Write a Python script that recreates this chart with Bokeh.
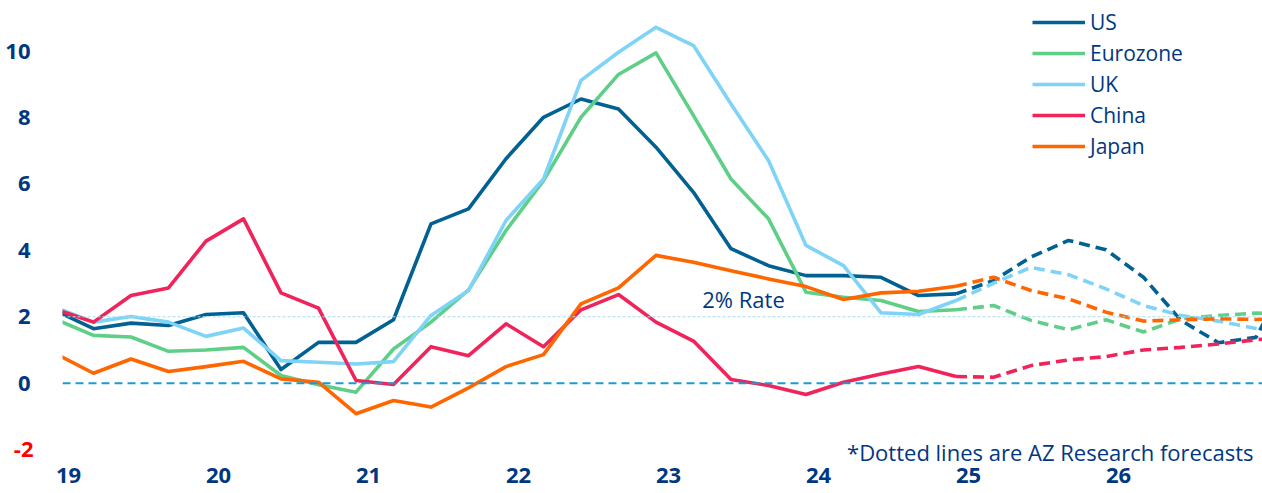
from bokeh.plotting import figure
from bokeh.models import FixedTicker, Span, Label, Legend, LegendItem, LinearAxis
from bokeh.embed import file_html
from bokeh.resources import INLINE

# quarterly observations (quarter-end month), Q4 2018 .. Q1 2027
dates = ["2018-12", "2019-03", "2019-06", "2019-09", "2019-12",
         "2020-03", "2020-06", "2020-09", "2020-12",
         "2021-03", "2021-06", "2021-09", "2021-12",
         "2022-03", "2022-06", "2022-09", "2022-12",
         "2023-03", "2023-06", "2023-09", "2023-12",
         "2024-03", "2024-06", "2024-09", "2024-12",
         "2025-03", "2025-06", "2025-09", "2025-12",
         "2026-03", "2026-06", "2026-09", "2026-12", "2027-03"]
n_actual = 25  # Q4 2018 .. Q4 2024 are outturns; forecasts start at Q4 2024

us_actual = [2.18, 1.64, 1.81, 1.74, 2.07, 2.12, 0.41, 1.23, 1.23, 1.91, 4.80, 5.25, 6.76,
             8.01, 8.56, 8.26, 7.11, 5.75, 4.05, 3.54, 3.24, 3.24, 3.19, 2.64, 2.69]
us_fcst = [2.69, 3.09, 3.80, 4.30, 4.02, 3.19, 1.89, 1.22, 1.38, 3.5]

ez_actual = [1.92, 1.44, 1.39, 0.96, 1.00, 1.08, 0.23, -0.05, -0.27, 1.03, 1.84, 2.81, 4.60,
             6.10, 8.01, 9.30, 9.95, 8.06, 6.15, 4.95, 2.74, 2.59, 2.49, 2.16, 2.21]
ez_fcst = [2.21, 2.34, 1.89, 1.61, 1.91, 1.54, 1.94, 2.04, 2.11, 2.1]

uk_actual = [2.28, 1.84, 2.01, 1.84, 1.41, 1.66, 0.68, 0.63, 0.58, 0.65, 2.04, 2.79, 4.90,
             6.15, 9.12, 9.97, 10.72, 10.17, 8.41, 6.71, 4.15, 3.54, 2.12, 2.07, 2.49]
uk_fcst = [2.49, 3.01, 3.49, 3.27, 2.84, 2.34, 2.04, 1.87, 1.65, 1.5]

cn_actual = [2.22, 1.84, 2.64, 2.87, 4.28, 4.95, 2.72, 2.26, 0.08, -0.04, 1.10, 0.83, 1.79,
             1.10, 2.21, 2.67, 1.84, 1.27, 0.11, -0.07, -0.34, 0.03, 0.28, 0.50, 0.20]
cn_fcst = [0.20, 0.18, 0.53, 0.70, 0.80, 1.00, 1.08, 1.18, 1.31, 1.4]

jp_actual = [0.88, 0.30, 0.73, 0.35, 0.50, 0.66, 0.13, 0.03, -0.92, -0.52, -0.72, -0.14, 0.50,
             0.86, 2.39, 2.87, 3.85, 3.64, 3.39, 3.14, 2.91, 2.52, 2.72, 2.77, 2.92]
jp_fcst = [2.92, 3.19, 2.79, 2.54, 2.14, 1.87, 1.91, 1.94, 1.92, 1.95]

series_names = ["US", "Eurozone", "UK", "China", "Japan"]
year_ticks = [2019, 2020, 2021, 2022, 2023, 2024, 2025, 2026]
year_labels = ["19", "20", "21", "22", "23", "24", "25", "26"]
y_ticks = [0, 2, 4, 6, 8, 10]
neg_ticks = [-2]
neg_labels = ["-2"]

TEXT = "#003781"
FONT = "Open Sans"
colors = ["#006192", "#5FCF88", "#7ED3F7", "#F0245B", "#FF6600"]


def to_year(s):
    y, m = s.split("-")
    return int(y) + (int(m) - 1) / 12.0


xs = [to_year(d) for d in dates]
x_act = xs[:n_actual]
x_fc = xs[n_actual - 1:]

p = figure(width=1262, height=493, output_backend="svg", toolbar_location=None,
           x_range=(2018.96, 2026.96), y_range=(-2.419, 11.527),
           min_border_left=62, min_border_right=0, min_border_top=0, min_border_bottom=30)
p.outline_line_color = None
p.background_fill_color = "white"
p.border_fill_color = "white"
p.xgrid.visible = False
p.ygrid.visible = False

# reference lines
p.add_layout(Span(location=0, dimension="width", line_color="#1A9BD7",
                  line_width=2, line_dash="8 5"))
p.add_layout(Span(location=2, dimension="width", line_color="#A8DCF0",
                  line_width=1, line_dash="3 2"))

actuals = [us_actual, ez_actual, uk_actual, cn_actual, jp_actual]
fcsts = [us_fcst, ez_fcst, uk_fcst, cn_fcst, jp_fcst]
items = []
for name, col, a, f in zip(series_names, colors, actuals, fcsts):
    r = p.line(x_act, a, line_color=col, line_width=3.6, line_join="round")
    p.line(x_fc, f, line_color=col, line_width=3.6, line_dash="11 6")
    items.append(LegendItem(label=name, renderers=[r]))

legend = Legend(items=items, location=(970, 303), padding=0, margin=0,
                border_line_color=None, background_fill_alpha=0,
                glyph_width=53, glyph_height=20, label_height=20, spacing=3,
                label_standoff=5, label_text_font=FONT, label_text_font_size="21px",
                label_text_color=TEXT)
p.add_layout(legend)


def style_axis(ax, color):
    ax.axis_line_color = None
    ax.major_tick_line_color = None
    ax.minor_tick_line_color = None
    ax.major_tick_in = 0
    ax.major_tick_out = 0
    ax.minor_tick_in = 0
    ax.minor_tick_out = 0
    ax.major_label_text_font = FONT
    ax.major_label_text_font_size = "22px"
    ax.major_label_text_font_style = "bold"
    ax.major_label_text_color = color


# x axis
p.xaxis.ticker = FixedTicker(ticks=year_ticks)
p.xaxis.major_label_overrides = {t: l for t, l in zip(year_ticks, year_labels)}
style_axis(p.xaxis[0], TEXT)
p.xaxis.major_label_standoff = 4

# inner left axis: the negative tick, in red
style_axis(p.yaxis[0], "#FF0000")
p.yaxis[0].ticker = FixedTicker(ticks=neg_ticks)
p.yaxis[0].major_label_overrides = {t: l for t, l in zip(neg_ticks, neg_labels)}
p.yaxis[0].major_label_standoff = 29

# outer left axis: the positive ticks, in blue, pulled back over the inner one
pos_axis = LinearAxis(ticker=FixedTicker(ticks=y_ticks))
style_axis(pos_axis, TEXT)
pos_axis.major_label_standoff = -20
p.add_layout(pos_axis, "left")

p.add_layout(Label(x=2023.5, y=2.55, text="2% Rate", text_align="center",
                   text_baseline="middle", text_color=TEXT, text_font=FONT,
                   text_font_size="22px"))
p.add_layout(Label(x=2026.9, y=-2.08, text="*Dotted lines are AZ Research forecasts",
                   text_align="right", text_baseline="middle", text_color=TEXT,
                   text_font=FONT, text_font_size="22px"))

open("out.html", "w").write(file_html(p, INLINE))
